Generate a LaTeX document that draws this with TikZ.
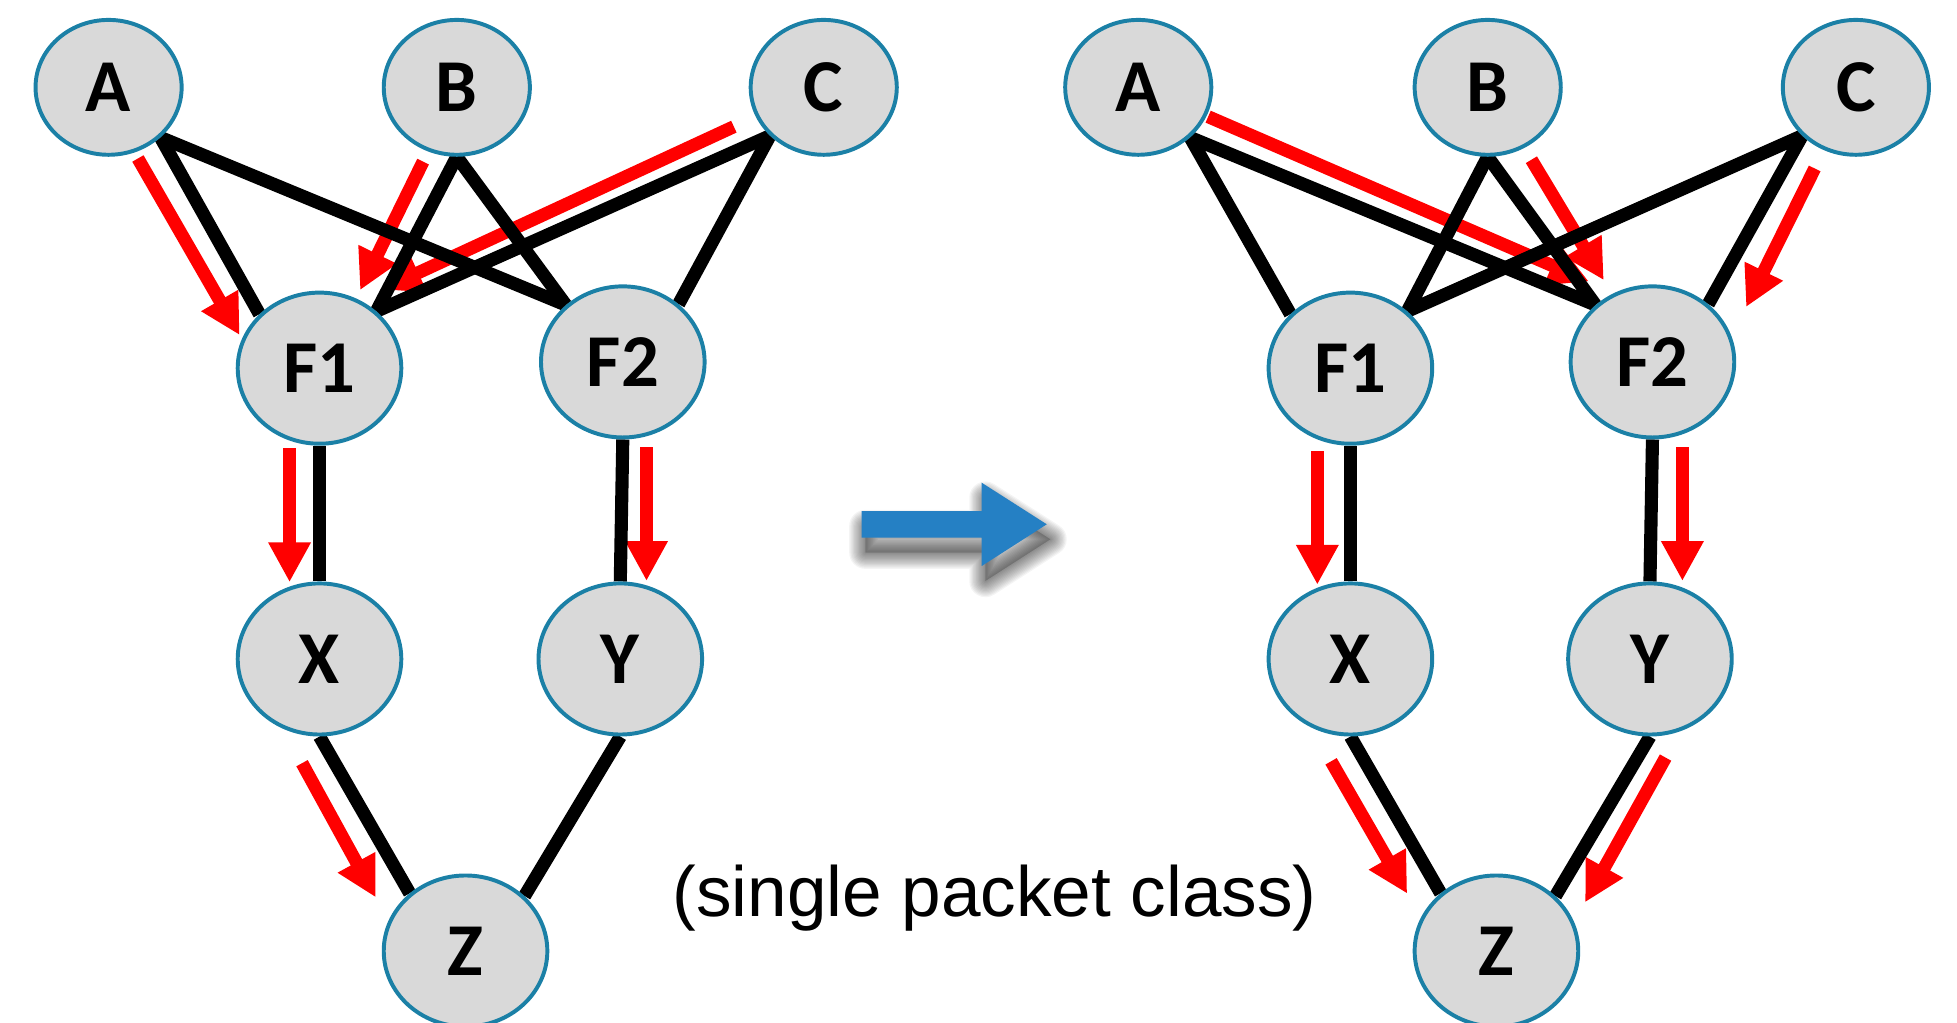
\documentclass[tikz,border=0pt]{standalone}
\usepackage{fontspec}
\setmainfont{Liberation Sans}
\newfontfamily\nodefont{Carlito}
\usetikzlibrary{shapes.geometric,arrows.meta,backgrounds}
\definecolor{nodeblue}{RGB}{27,128,166}
\definecolor{nodegray}{RGB}{217,217,217}
\definecolor{arrowblue}{RGB}{37,128,196}

\tikzset{
  nd/.style={ellipse, draw=nodeblue, line width=0.9pt, fill=nodegray, inner sep=0pt,
    font=\nodefont\bfseries\fontsize{17pt}{17pt}\selectfont},
  srcnode/.style={nd, minimum width=1.17cm, minimum height=1.08cm},
  hubnode/.style={nd, minimum width=1.31cm, minimum height=1.21cm},
  link/.style={line width=0.105cm, black},
  flow/.style={line width=0.104cm, red, -{Triangle[width=0.32cm,length=0.32cm]}},
  softshade/.style={black, opacity=0.045, line join=round, line width=#1},
}

\begin{document}
\begin{tikzpicture}[x=0.01cm, y=-0.01cm]
\useasboundingbox (0,0) rectangle (1568,819);

% ---------- left network ----------
\node[srcnode] (la)  at (87,70)   {A};
\node[srcnode] (lb)  at (366,70)  {B};
\node[srcnode] (lc)  at (660,70)  {C};
\node[hubnode] (lf1) at (256,295) {F1};
\node[hubnode] (lf2) at (499,290) {F2};
\node[hubnode] (lx)  at (256,528) {X};
\node[hubnode] (ly)  at (497,528) {Y};
\node[hubnode] (lz)  at (373,762) {Z};

% ---------- right network ----------
\node[srcnode] (ra)  at (912,70)   {A};
\node[srcnode] (rb)  at (1192,70)  {B};
\node[srcnode] (rc)  at (1487,70)  {C};
\node[hubnode] (rf1) at (1082,295) {F1};
\node[hubnode] (rf2) at (1324,290) {F2};
\node[hubnode] (rx)  at (1082,528) {X};
\node[hubnode] (ry)  at (1322,528) {Y};
\node[hubnode] (rz)  at (1199,762) {Z};

% end points of the forwarding arrows
\coordinate (lfa1) at (110.5,127);  \coordinate (lfa2) at (192,268.5);
\coordinate (lfb1) at (339,129.5);  \coordinate (lfb2) at (288.5,232.5);
\coordinate (lfc1) at (588,101.5);  \coordinate (lfc2) at (306,232);
\coordinate (lfx1) at (232,359);    \coordinate (lfx2) at (232,466.5);
\coordinate (lfy1) at (518,358.5);  \coordinate (lfy2) at (518,465.5);
\coordinate (lfz1) at (242,611.5);  \coordinate (lfz2) at (301,719);

\coordinate (rfa1) at (968,93.5);   \coordinate (rfa2) at (1273,225.5);
\coordinate (rfb1) at (1227,128);   \coordinate (rfb2) at (1285,224.5);
\coordinate (rfc1) at (1454,135);   \coordinate (rfc2) at (1399,246);
\coordinate (rfx1) at (1055.5,361.5); \coordinate (rfx2) at (1055.5,468.5);
\coordinate (rfy1) at (1348,358.5); \coordinate (rfy2) at (1348,465.5);
\coordinate (rfz1) at (1066.5,610); \coordinate (rfz2) at (1127.5,716);
\coordinate (rfw1) at (1334.5,607); \coordinate (rfw2) at (1270,723);

\begin{scope}[on background layer]
  % forwarding paths (red)
  \draw[flow] (lfa1) -- (lfa2);
  \draw[flow] (lfb1) -- (lfb2);
  \draw[flow] (lfc1) -- (lfc2);
  \draw[flow] (lfx1) -- (lfx2);
  \draw[flow] (lfy1) -- (lfy2);
  \draw[flow] (lfz1) -- (lfz2);

  \draw[flow] (rfa1) -- (rfa2);
  \draw[flow] (rfb1) -- (rfb2);
  \draw[flow] (rfc1) -- (rfc2);
  \draw[flow] (rfx1) -- (rfx2);
  \draw[flow] (rfy1) -- (rfy2);
  \draw[flow] (rfz1) -- (rfz2);
  \draw[flow] (rfw1) -- (rfw2);

  % physical links (black)
  \draw[link] (la.-44)   -- (lf1.138);
  \draw[link] (la.-44)   -- (lf2.135);
  \draw[link] (lb.south) -- (lf1.45);
  \draw[link] (lb.south) -- (lf2.135);
  \draw[link] (lc.-138)  -- (lf1.45);
  \draw[link] (lc.-138)  -- (lf2.46);
  \draw[link] (lf1.south) -- (lx.north);
  \draw[link] (lf2.south) -- (ly.north);
  \draw[link] (lx.south) -- (lz.134);
  \draw[link] (ly.south) -- (lz.43);

  \draw[link] (ra.-44)   -- (rf1.138);
  \draw[link] (ra.-44)   -- (rf2.135);
  \draw[link] (rb.south) -- (rf1.45);
  \draw[link] (rb.south) -- (rf2.135);
  \draw[link] (rc.-138)  -- (rf1.45);
  \draw[link] (rc.-138)  -- (rf2.46);
  \draw[link] (rf1.south) -- (rx.north);
  \draw[link] (rf2.south) -- (ry.north);
  \draw[link] (rx.south) -- (rz.134);
  \draw[link] (ry.south) -- (rz.43);
\end{scope}

% transition arrow with a soft shadow
\begin{scope}[shift={(3,12)}]
  \foreach \w in {0.26cm,0.24cm,0.22cm,0.20cm,0.18cm,0.16cm,0.14cm,0.12cm,0.10cm,0.08cm,0.06cm,0.04cm,0.02cm}
    \draw[softshade=\w]
      (690.4,409.5) -- (786.6,409.5) -- (786.6,386.8) -- (838.7,420.1)
      -- (786.6,453.5) -- (786.6,430.8) -- (690.4,430.8) -- cycle;
  \fill[black, opacity=0.2]
      (690.4,409.5) -- (786.6,409.5) -- (786.6,386.8) -- (838.7,420.1)
      -- (786.6,453.5) -- (786.6,430.8) -- (690.4,430.8) -- cycle;
\end{scope}
\fill[arrowblue]
  (690.4,409.5) -- (786.6,409.5) -- (786.6,386.8) -- (838.7,420.1)
  -- (786.6,453.5) -- (786.6,430.8) -- (690.4,430.8) -- cycle;

\node[anchor=base, inner sep=0pt, font=\fontsize{16.2pt}{18pt}\selectfont]
  (caption) at (797,734.5) {(single packet class)};
\end{tikzpicture}
\end{document}
